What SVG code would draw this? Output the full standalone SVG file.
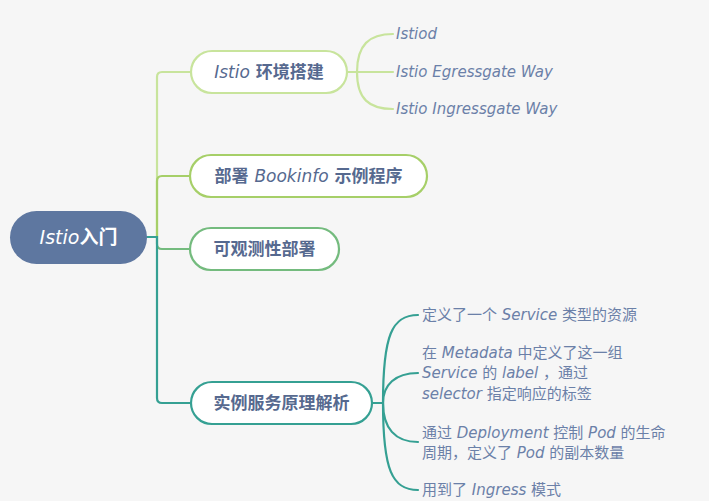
<svg xmlns="http://www.w3.org/2000/svg" width="709" height="501" viewBox="0 0 709 501">
<style>
.bg{fill:#f6f6f6}
.line{fill:none;stroke-width:2.2;stroke-linecap:round}
.c1{stroke:#c8e49c}
.c2{stroke:#a6cf68}
.c3{stroke:#74bb7e}
.c4{stroke:#35a093}
.node{fill:#ffffff;stroke-width:2.2}
.ntext{font-family:"DejaVu Sans","Noto Sans CJK SC",sans-serif;font-size:17px;font-weight:bold;fill:#56698f}
.lat{font-style:italic;font-weight:normal}
.sub{font-family:"DejaVu Sans","Noto Sans CJK SC",sans-serif;font-size:15px;fill:#6b80a8}
.root{font-family:"DejaVu Sans","Noto Sans CJK SC",sans-serif;font-size:19px;font-weight:bold;fill:#ffffff}
</style>
<rect class="bg" x="0" y="0" width="709" height="501"/>
<g id="connectors">
<path class="line c1" d="M157,237 V77 Q157,72 162,72 H191"/>
<path class="line c2" d="M157,237 V181 Q157,176 162,176 H190"/>
<path class="line c3" d="M157,237 V244 Q157,249 162,249 H190"/>
<path class="line c4" d="M147,237 H157 V398 Q157,403 162,403 H191"/>
<path class="line c1" d="M347,72 H393"/>
<path class="line c1" d="M357,72 C357,45 369,34 393,34"/>
<path class="line c1" d="M357,72 C357,99 369,109 393,109"/>
<path class="line c4" d="M372,403 H383"/>
<path class="line c4" d="M383,403 C383,335 392,315 418,315"/>
<path class="line c4" d="M383,403 C383,385 395,373 418,373"/>
<path class="line c4" d="M383,403 C383,428 395,442 418,442"/>
<path class="line c4" d="M383,403 C383,470 392,490 418,490"/>
</g>
<g id="root">
<rect x="10" y="211" width="137" height="53" rx="26.5" fill="#5e77a0"/>
<text class="root" x="78.5" y="244" text-anchor="middle"><tspan class="lat" font-weight="bold">Istio</tspan>入门</text>
</g>
<g id="node-env">
<rect class="node" x="191" y="51" width="156" height="42" rx="21" stroke="#c8e49c"/>
<text class="ntext" x="269" y="78" text-anchor="middle"><tspan class="lat">Istio</tspan> 环境搭建</text>
</g>
<g id="node-bookinfo">
<rect class="node" x="190" y="155" width="237" height="42" rx="21" stroke="#a6cf68"/>
<text class="ntext" x="308.5" y="182" text-anchor="middle">部署 <tspan class="lat">Bookinfo</tspan> 示例程序</text>
</g>
<g id="node-observe">
<rect class="node" x="190" y="228" width="149" height="42" rx="21" stroke="#74bb7e"/>
<text class="ntext" x="264.5" y="255" text-anchor="middle">可观测性部署</text>
</g>
<g id="node-service">
<rect class="node" x="191" y="382" width="181" height="42" rx="21" stroke="#35a093"/>
<text class="ntext" x="281.5" y="409" text-anchor="middle">实例服务原理解析</text>
</g>
<g id="sub-istiod"><text class="sub" x="396" y="39"><tspan class="lat">Istiod</tspan></text></g>
<g id="sub-egress"><text class="sub" x="396" y="77"><tspan class="lat">Istio Egressgate Way</tspan></text></g>
<g id="sub-ingress"><text class="sub" x="396" y="114"><tspan class="lat">Istio Ingressgate Way</tspan></text></g>
<g id="sub-service"><text class="sub" x="422" y="320">定义了一个 <tspan class="lat">Service</tspan> 类型的资源</text></g>
<g id="sub-metadata">
<text class="sub" x="422" y="358">在 <tspan class="lat">Metadata</tspan> 中定义了这一组</text>
<text class="sub" x="422" y="378"><tspan class="lat">Service</tspan> 的 <tspan class="lat">label</tspan> ，通过</text>
<text class="sub" x="422" y="399"><tspan class="lat">selector</tspan> 指定响应的标签</text>
</g>
<g id="sub-deployment">
<text class="sub" x="422" y="438">通过 <tspan class="lat">Deployment</tspan> 控制 <tspan class="lat">Pod</tspan> 的生命</text>
<text class="sub" x="422" y="458">周期，定义了 <tspan class="lat">Pod</tspan> 的副本数量</text>
</g>
<g id="sub-ingressmode"><text class="sub" x="422" y="495">用到了 <tspan class="lat">Ingress</tspan> 模式</text></g>
</svg>
